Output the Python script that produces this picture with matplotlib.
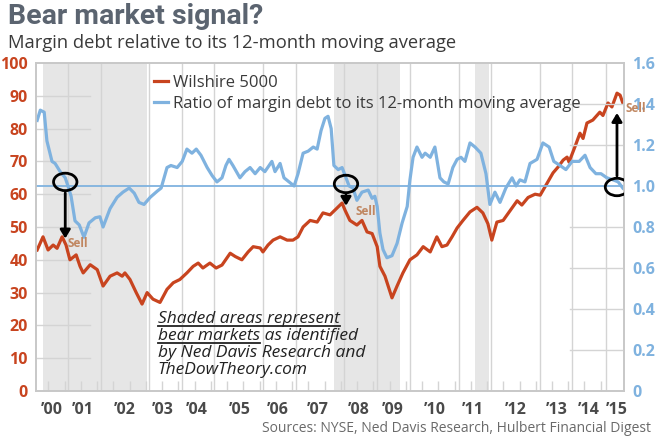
import matplotlib
matplotlib.use('Agg')
import matplotlib.pyplot as plt
from matplotlib.patches import Ellipse
from matplotlib.ticker import MultipleLocator

# Wilshire 5000 (left axis) - decimal year, value
wil_t = [2000.13, 2000.28, 2000.41, 2000.54, 2000.64, 2000.77, 2000.87, 2000.97, 2001.13, 2001.23,
         2001.31, 2001.49, 2001.67, 2001.82, 2002.00, 2002.18, 2002.31, 2002.38, 2002.51, 2002.67,
         2002.82, 2002.95, 2003.10, 2003.28, 2003.46, 2003.62, 2003.79, 2003.97, 2004.13, 2004.26,
         2004.38, 2004.56, 2004.72, 2004.87, 2005.08, 2005.21, 2005.38, 2005.54, 2005.67, 2005.85,
         2005.92, 2006.05, 2006.18, 2006.36, 2006.54, 2006.69, 2006.82, 2006.95, 2007.13, 2007.31,
         2007.46, 2007.64, 2007.77, 2007.95, 2008.03, 2008.15, 2008.33, 2008.46, 2008.59, 2008.72,
         2008.85, 2008.92, 2009.05, 2009.23, 2009.36, 2009.51, 2009.69, 2009.87, 2010.03, 2010.21,
         2010.38, 2010.51, 2010.64, 2010.77, 2010.90, 2011.05, 2011.23, 2011.41, 2011.56, 2011.69,
         2011.79, 2011.92, 2012.08, 2012.26, 2012.44, 2012.56, 2012.72, 2012.90, 2013.03, 2013.21,
         2013.36, 2013.49, 2013.62, 2013.72, 2013.77, 2013.92, 2014.05, 2014.13, 2014.23, 2014.38,
         2014.56, 2014.64, 2014.77, 2014.87, 2015.00, 2015.08, 2015.15]
wil_v = [43, 47, 43, 44.5, 43.5, 47, 44.5, 40, 41.5, 38,
         36, 38.5, 37, 32, 35, 36, 35, 36, 34, 30,
         26.5, 30, 28, 27, 31, 33, 34, 36, 38, 39,
         37.5, 39, 37.5, 38.4, 42, 41, 40, 42.4, 44, 43.6,
         42.4, 44.5, 46, 47, 46, 46, 47, 50, 52, 51.5,
         54.3, 53.7, 55.2, 57.3, 55, 52, 50.6, 52, 48.5, 48,
         44, 38, 35, 28.4, 32, 36, 40, 41.5, 44, 42.4,
         47, 44, 44.5, 47, 49.7, 52, 54.6, 56, 54.3, 51,
         46, 51.5, 52, 55, 58, 56.7, 59, 60, 59.7, 63.4,
         66.5, 68.3, 70.4, 71.3, 69.8, 74.4, 78.6, 77, 81.7, 82.6,
         85, 84, 87.8, 86.6, 90.8, 90.2, 87.8]

# ratio of margin debt to its 12-month moving average (right axis)
rat_t = [2000.13, 2000.21, 2000.31, 2000.38, 2000.51, 2000.59, 2000.72, 2000.85, 2000.92, 2001.00,
         2001.10, 2001.21, 2001.33, 2001.46, 2001.62, 2001.74, 2001.82, 2002.00, 2002.18, 2002.33,
         2002.49, 2002.62, 2002.74, 2002.87, 2003.03, 2003.21, 2003.31, 2003.46, 2003.56, 2003.72,
         2003.85, 2003.97, 2004.10, 2004.21, 2004.33, 2004.49, 2004.62, 2004.74, 2004.87, 2004.97,
         2005.05, 2005.15, 2005.33, 2005.46, 2005.59, 2005.72, 2005.85, 2005.97, 2006.15, 2006.23,
         2006.36, 2006.46, 2006.59, 2006.72, 2006.82, 2006.95, 2007.08, 2007.21, 2007.31, 2007.41,
         2007.51, 2007.59, 2007.67, 2007.74, 2007.85, 2007.95, 2008.03, 2008.13, 2008.23, 2008.33,
         2008.46, 2008.62, 2008.72, 2008.79, 2008.85, 2008.92, 2009.00, 2009.10, 2009.23, 2009.36,
         2009.49, 2009.62, 2009.69, 2009.77, 2009.87, 2010.00, 2010.08, 2010.21, 2010.33, 2010.46,
         2010.56, 2010.67, 2010.79, 2010.90, 2011.00, 2011.10, 2011.23, 2011.36, 2011.51, 2011.64,
         2011.74, 2011.87, 2012.00, 2012.15, 2012.31, 2012.41, 2012.51, 2012.64, 2012.77, 2012.95,
         2013.10, 2013.26, 2013.38, 2013.54, 2013.69, 2013.85, 2014.03, 2014.18, 2014.31, 2014.46,
         2014.59, 2014.74, 2014.90, 2015.03, 2015.15]
rat_v = [1.32, 1.37, 1.36, 1.22, 1.12, 1.11, 1.07, 1.04, 1.00, 0.95,
         0.83, 0.81, 0.75, 0.82, 0.845, 0.85, 0.80, 0.89, 0.945, 0.97,
         0.99, 0.965, 0.92, 0.91, 0.945, 0.975, 0.99, 1.09, 1.10, 1.09,
         1.12, 1.18, 1.16, 1.18, 1.15, 1.09, 1.05, 1.02, 1.04, 1.10,
         1.13, 1.10, 1.04, 1.07, 1.09, 1.06, 1.09, 1.07, 1.12, 1.07,
         1.11, 1.04, 1.02, 1.00, 1.06, 1.16, 1.17, 1.19, 1.18, 1.27,
         1.33, 1.34, 1.28, 1.10, 1.08, 1.09, 1.05, 1.00, 0.99, 0.93,
         0.97, 0.98, 0.94, 0.95, 0.90, 0.77, 0.69, 0.65, 0.66, 0.72,
         0.82, 0.90, 1.03, 1.14, 1.19, 1.14, 1.16, 1.14, 1.19, 1.04,
         1.02, 1.01, 1.09, 1.13, 1.14, 1.12, 1.21, 1.19, 1.16, 1.06,
         0.91, 0.97, 0.92, 0.99, 1.04, 1.00, 1.03, 1.02, 1.11, 1.13,
         1.21, 1.19, 1.12, 1.10, 1.08, 1.12, 1.12, 1.15, 1.09, 1.06,
         1.06, 1.04, 1.03, 1.02, 0.99]

# bear markets (shaded)
bear_start = [2000.28, 2007.74, 2011.36]
bear_end = [2002.95, 2009.44, 2011.72]

# x labels and where they sit
year_pos = [2000.51, 2001.31, 2002.38, 2003.36, 2004.23, 2005.33, 2006.31, 2007.33, 2008.38, 2009.26,
            2010.33, 2011.31, 2012.41, 2013.46, 2014.28, 2015.0]
year_lab = ["’00", "’01", "’02", "’03", "’04", "’05", "’06", "’07", "’08", "’09",
            "’10", "’11", "’12", "’13", "’14", "’15"]
vgrid = [2000.92, 2001.77, 2003.00, 2003.85, 2004.67, 2005.92, 2006.77, 2008.00, 2008.85, 2009.69,
         2010.95, 2011.77, 2013.03, 2013.85, 2014.72]

# sell signals: circle on the ratio line, arrow end
sell_t = [2000.85, 2008.05, 2015.0]
sell_r = [1.02, 1.01, 0.995]
arrow_end = [0.73, 0.89, 1.37]

RED = '#c8441f'
BLUE = '#7fb2df'
GRID = '#d4d4d4'
SELL = '#c08660'
INK = '#222222'

plt.rcParams['font.family'] = ['Open Sans', 'DejaVu Sans']

fig = plt.figure(figsize=(6.59, 4.44), dpi=100)
ax = fig.add_axes([36/659, 1-391/444, 588/659, 328/444])
ax2 = ax.twinx()

for s, e in zip(bear_start, bear_end):
    ax.axvspan(s, e, color='#e6e6e6', lw=0, zorder=0)
for g in vgrid:
    ax.axvline(g, color=GRID, lw=1, zorder=0.5)
for v in range(10, 100, 10):
    ax.axhline(v, xmin=0, xmax=0.092, color=GRID, lw=1, zorder=0.5)
for v in [0.2, 0.4, 0.6, 0.8, 1.2, 1.4]:
    ax2.axhline(v, xmin=0.908, xmax=1, color=GRID, lw=1, zorder=0.5)

ax2.axhline(1.0, color=BLUE, lw=1.3, zorder=1)
l2, = ax2.plot(rat_t, rat_v, color=BLUE, lw=2.3, zorder=2,
               label='Ratio of margin debt to its 12-month moving average')
l1, = ax.plot(wil_t, wil_v, color=RED, lw=2.3, label='Wilshire 5000')

ax.set_xlim(2000.1, 2015.18)
ax.set_ylim(0, 100)
ax2.set_ylim(0, 1.6)
ax.set_yticks(range(0, 101, 10))
ax2.set_yticks([0, 0.2, 0.4, 0.6, 0.8, 1.0, 1.2, 1.4, 1.6])
ax2.set_yticklabels(['0', '0.2', '0.4', '0.6', '0.8', '1.0', '1.2', '1.4', '1.6'])
ax.set_xticks(year_pos)
ax.set_xticklabels(year_lab)
ax.xaxis.set_minor_locator(MultipleLocator(5/12))

for a in (ax, ax2):
    for sp in a.spines.values():
        sp.set_color('#c8c8c8')
        sp.set_linewidth(1.2)
ax.tick_params(axis='y', length=0, pad=6, labelsize=11.5, labelcolor=RED)
ax2.tick_params(axis='y', length=0, pad=6, labelsize=11.5, labelcolor=BLUE)
ax.tick_params(axis='x', which='major', length=0, pad=8, labelsize=11.5, labelcolor='#4a4a4a')
ax.tick_params(axis='x', which='minor', direction='in', length=7, color=GRID, width=1)
for lab in ax.get_yticklabels() + ax2.get_yticklabels() + ax.get_xticklabels():
    lab.set_fontweight('bold')

ax2.set_zorder(1)
ax.set_zorder(0)
ax2.patch.set_visible(False)

leg = ax2.legend(handles=[l1, l2], loc='upper left', bbox_to_anchor=(0.19, 0.985),
                 frameon=False, fontsize=12, handlelength=0.8, handletextpad=0.3,
                 labelspacing=0.3, borderaxespad=0)
for t in leg.get_texts():
    t.set_color('#3a3a3a')

# sell circles and arrows
for t, r, e in zip(sell_t, sell_r, arrow_end):
    ax2.add_patch(Ellipse((t, r), 0.6, 0.085, fill=False, ec='black', lw=2, zorder=5))
    start = r - 0.04 if e < r else r + 0.04
    ax2.annotate('', xy=(t, e), xytext=(t, start),
                 arrowprops=dict(arrowstyle='-|>,head_width=0.3,head_length=0.5',
                                 color='black', lw=2), zorder=5)
ax2.text(sell_t[0] + 0.05, 0.72, 'Sell', color=SELL, fontsize=8.5, fontweight='bold', va='center', zorder=6)
ax2.text(sell_t[1] + 0.25, 0.875, 'Sell', color=SELL, fontsize=8.5, fontweight='bold', va='center', zorder=6)
ax2.text(sell_t[2] + 0.22, 1.38, 'Sell', color=SELL, fontsize=8.5, fontweight='bold', va='center',
         zorder=6, clip_on=False)

# shaded-area note, first line and "bear markets" underlined
note_x = 0.207
note_lines = ['Shaded areas represent', 'bear markets as identified',
              'by Ned Davis Research and', 'TheDowTheory.com']
note_y = [0.207, 0.155, 0.104, 0.052]
note_txt = []
for s, y in zip(note_lines, note_y):
    note_txt.append(ax.text(note_x, y, s, transform=ax.transAxes, fontsize=12.5, style='italic',
                            color=INK, va='baseline'))
probe = ax.text(note_x, 0.155, 'bear markets', transform=ax.transAxes, fontsize=12.5,
                style='italic', alpha=0, va='baseline')
fig.canvas.draw()
inv = ax.transAxes.inverted()
end1 = inv.transform(note_txt[0].get_window_extent().p1)[0]
end2 = inv.transform(probe.get_window_extent().p1)[0]
ax.plot([note_x, end1], [0.197, 0.197], transform=ax.transAxes, color=INK, lw=1.3)
ax.plot([note_x, end2], [0.145, 0.145], transform=ax.transAxes, color=INK, lw=1.3)

fig.text(8/659, 1-16/444, 'Bear market signal?', fontsize=20.5, fontweight='bold', color='#5b6470',
         family=['Roboto', 'DejaVu Sans'], va='center')
fig.text(8/659, 1-43/444, 'Margin debt relative to its 12-month moving average', fontsize=13.2,
         color='#3a3a3a', va='center')
fig.text(651/659, 1-428/444, 'Sources: NYSE, Ned Davis Research, Hulbert Financial Digest',
         fontsize=10, color='#6a6a6a', ha='right', va='center')

fig.savefig('out.png', dpi=100)
